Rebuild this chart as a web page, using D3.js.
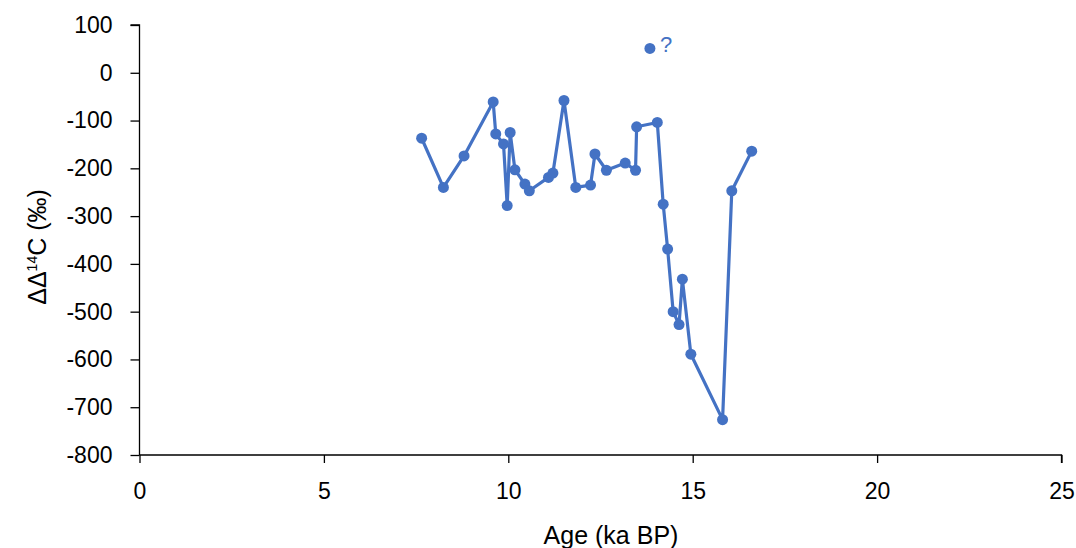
<!DOCTYPE html>
<html lang="en">
<head>
  <meta charset="UTF-8">
  <title>Delta Delta 14C vs age</title>
  <script src="https://d3js.org/d3.v7.min.js"></script>
  <style>
    * { margin: 0; padding: 0; }
    body { background: #fff; }
    svg { display: block; }
    .tick text { fill: #000; }
  </style>
</head>
<body>
  <div class="chart"></div>
  <script>
    // data (age in ka BP, delta-delta 14C in permil)
    var ages = [7.65, 8.24, 8.80, 9.59, 9.66, 9.87, 9.97, 10.05, 10.18, 10.45, 10.57,
      11.09, 11.21, 11.51, 11.83, 12.23, 12.35, 12.66, 13.17, 13.45, 13.48, 14.04,
      14.20, 14.32, 14.47, 14.63, 14.72, 14.95, 15.81, 16.06, 16.60];
    var values = [-137, -240, -174, -61, -128, -149, -278, -125, -203, -233, -247,
      -219, -210, -58, -240, -235, -170, -204, -189, -204, -113, -104,
      -275, -369, -500, -527, -432, -589, -726, -247, -164];
    var outlierAge = [13.84];
    var outlierValue = [51];
    var outlierLabel = ['?'];
    var xTicks = [0, 5, 10, 15, 20, 25];
    var yTicks = [100, 0, -100, -200, -300, -400, -500, -600, -700, -800];

    var width = 1076, height = 548;
    var color = '#4472C4';
    var font = '"Liberation Sans", Arial, sans-serif';

    var svg = d3.select('.chart')
      .append('svg')
      .attr('width', width)
      .attr('height', height);

    var xScale = d3.scaleLinear().domain([0, 25]).range([139.5, 1061.5]);
    var yScale = d3.scaleLinear().domain([-800, 100]).range([455, 25]);

    // axes (plain hyphen for negatives, like the original)
    var fmt = function (d) { return String(d); };
    var xAxis = d3.axisBottom(xScale).tickValues(xTicks).tickSize(8).tickPadding(20).tickFormat(fmt);
    var yAxis = d3.axisLeft(yScale).tickValues(yTicks).tickSize(9).tickPadding(18).tickFormat(fmt);

    var gx = svg.append('g')
      .attr('transform', 'translate(0,' + yScale(-800) + ')')
      .call(xAxis);
    gx.select('.domain').attr('d', 'M' + xScale(0) + ',0H' + xScale(25) + 'V8');
    gx.selectAll('text')
      .style('font-family', font)
      .style('font-size', '23px');

    var gy = svg.append('g')
      .attr('transform', 'translate(' + xScale(0) + ',0)')
      .call(yAxis);
    gy.select('.domain').attr('d', 'M-9,' + yScale(100) + 'H0V' + yScale(-800));
    gy.selectAll('text')
      .style('font-family', font)
      .style('font-size', '23px');

    svg.selectAll('.domain, .tick line')
      .attr('stroke', '#000')
      .attr('stroke-width', 1.3);

    // axis titles
    svg.append('text')
      .attr('x', 611)
      .attr('y', 544)
      .attr('text-anchor', 'middle')
      .style('font-family', font)
      .style('font-size', '25px')
      .text('Age (ka BP)');

    var yTitle = svg.append('text')
      .attr('transform', 'translate(46,247) rotate(-90)')
      .attr('text-anchor', 'middle')
      .style('font-family', font)
      .style('font-size', '25px');
    yTitle.append('tspan').text('\u0394\u0394');
    yTitle.append('tspan').attr('dy', -9).style('font-size', '14px').text('14');
    yTitle.append('tspan').attr('dy', 9).text('C (\u2030)');

    // series line
    var points = ages.map(function (d, i) { return [d, values[i]]; });
    var line = d3.line()
      .x(function (d) { return xScale(d[0]); })
      .y(function (d) { return yScale(d[1]); });

    svg.append('path')
      .attr('d', line(points))
      .attr('fill', 'none')
      .attr('stroke', color)
      .attr('stroke-width', 3.2)
      .attr('stroke-linejoin', 'round');

    svg.selectAll('.dot')
      .data(points)
      .enter()
      .append('circle')
      .attr('class', 'dot')
      .attr('cx', function (d) { return xScale(d[0]); })
      .attr('cy', function (d) { return yScale(d[1]); })
      .attr('r', 5.5)
      .attr('fill', color);

    // separate questionable point
    svg.selectAll('.outlier')
      .data(outlierAge)
      .enter()
      .append('circle')
      .attr('class', 'outlier')
      .attr('cx', function (d) { return xScale(d); })
      .attr('cy', function (d, i) { return yScale(outlierValue[i]); })
      .attr('r', 5.5)
      .attr('fill', color);

    svg.selectAll('.outlierLabel')
      .data(outlierAge)
      .enter()
      .append('text')
      .attr('class', 'outlierLabel')
      .attr('x', function (d) { return xScale(d) + 10; })
      .attr('y', function (d, i) { return yScale(outlierValue[i]) + 4; })
      .style('font-family', font)
      .style('font-size', '22px')
      .attr('fill', color)
      .text(function (d, i) { return outlierLabel[i]; });
  </script>
</body>
</html>
